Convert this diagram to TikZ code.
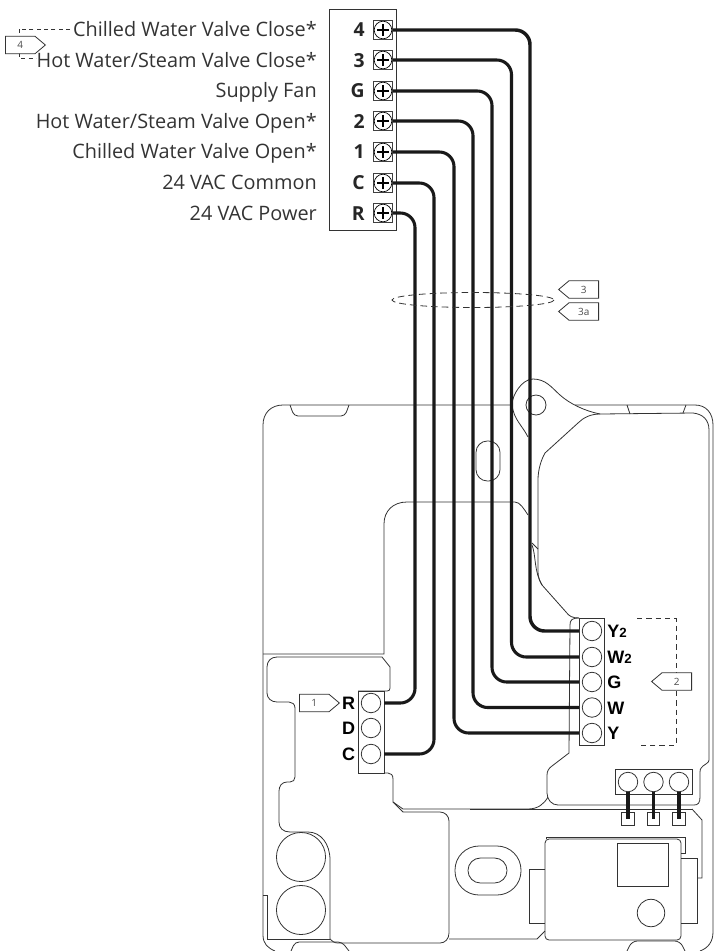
\documentclass[tikz,border=0pt]{standalone}
\usepackage{fontspec}
\setmainfont{Open Sans}
\newfontfamily\termfont{Liberation Sans}[BoldFont={Liberation Sans Bold}]
\usetikzlibrary{shapes.symbols}
\tikzset{
  thinline/.style={draw=black!80,line width=0.6pt},
  wire/.style={draw=black!90,line width=2.3pt,rounded corners=11pt},
  stub/.style={draw=black!90,line width=2.3pt},
  termhole/.style={circle,draw=black!80,line width=0.6pt,fill=white,minimum size=14.6pt,inner sep=0pt},
  screw/.style={rectangle,draw=black!75,line width=0.6pt,fill=white,minimum size=14.3pt,inner sep=0pt,
    path picture={
      \draw[black,line width=0.5pt] (path picture bounding box.center) circle (6.6pt);
      \draw[black,line width=1.4pt] ([xshift=-4.4pt]path picture bounding box.center) -- ([xshift=4.4pt]path picture bounding box.center);
      \draw[black,line width=1.4pt] ([yshift=-4.4pt]path picture bounding box.center) -- ([yshift=4.4pt]path picture bounding box.center);
    }},
  lab/.style={anchor=base east,inner sep=0pt,text=black!80,font=\fontsize{14.9pt}{16pt}\selectfont},
  scrlab/.style={anchor=base east,inner sep=0pt,text=black!85,font=\fontsize{14.5pt}{16pt}\selectfont\bfseries},
  termlab/.style={inner sep=0pt,font=\termfont\fontsize{13.5pt}{14pt}\selectfont\bfseries},
  tagr/.style={signal,signal to=east,signal pointer angle=80,draw=black!80,line width=0.6pt,fill=white,inner sep=0pt,
    minimum width=30pt,minimum height=13pt,anchor=west,font=\fontsize{7.5pt}{8pt}\selectfont,text=black!70},
  tagl/.style={signal,signal to=west,signal pointer angle=80,draw=black!80,line width=0.6pt,fill=white,inner sep=0pt,
    minimum width=30pt,minimum height=13pt,anchor=east,font=\fontsize{7.5pt}{8pt}\selectfont,text=black!70}
}
\begin{document}
\begin{tikzpicture}[x=0.75pt,y=-0.75pt]
\useasboundingbox (0,0) rectangle (714,951);
% ---- housing ----
\begin{scope}[thinline]
  % outer shell
  \draw (512,405) -- (283,405) .. controls (271,405) and (263,413) .. (263,425) -- (263,935)
        .. controls (263,944) and (268,948) .. (275,951);
  \draw (575,405) -- (695,405) .. controls (706,405) and (713,413) .. (713,425) -- (713,932)
        .. controls (713,942) and (708,948) .. (700,951);
  % top clips
  \draw[rounded corners=3pt] (290,405) -- (294,416) -- (345,416) -- (349,405);
  \draw (627,405) -- (630,414);
  \draw (686,405) -- (683,413);
  % ear
  \draw (512,405) .. controls (512,395) and (522,379) .. (533,379)
        .. controls (546,379) and (552,388) .. (560,395)
        .. controls (570,404) and (585,411) .. (600,414);
  \draw (512,405) .. controls (514,420) and (522,425) .. (528,437);
  \draw (536,405) circle (10);
  % inner right contour
  \draw (600,414) .. controls (590,414) and (583,418) .. (578,423) -- (545,453)
        .. controls (541,460) and (538,470) .. (538,480) -- (538,572);
  \draw (532,543) -- (538,549);
  \draw (532,545) .. controls (536,555) and (534,572) .. (542,585);
  \draw (538,572) .. controls (538,577) and (540,582) .. (542,585) -- (566,612)
        .. controls (569,616) and (572,618) .. (579,618);
  \draw (600,414) -- (693,413) .. controls (703,414) and (709,420) .. (709,430)
        -- (709,760) .. controls (709,763) and (705,764) .. (703,766) .. controls (700,769) and (700,770) .. (700,772)
        -- (700,797) .. controls (700,803) and (698,805) .. (694,805)
        -- (558,805) .. controls (552,805) and (547,800) .. (547,793)
        -- (547,775) .. controls (547,771) and (549,768) .. (552,766) -- (569,753)
        -- (570,625) .. controls (570,620) and (572,618) .. (579,618);
  % lower contour
  \draw (548,797) .. controls (544,804) and (538,809) .. (528,809) -- (403,809) -- (393,802)
        -- (393,779) .. controls (393,775) and (391,773) .. (388,773) -- (358,773);
  \draw (692,809) -- (702,820) -- (702,878) -- (697,878);
  \draw (470,809) -- (692,809);
  % inner left panel
  \draw (263,654) -- (384,654) -- (384,524) .. controls (384,511) and (393,502) .. (407,502)
        -- (515,502) .. controls (520,502) and (524,509) .. (528,515);
  % pocket
  \draw (358,691) -- (387,691) .. controls (389,691) and (390,690) .. (390,688) -- (390,667) -- (382,657) -- (277,657)
        .. controls (271,657) and (267,661) .. (267,667) -- (267,693) .. controls (267,698) and (271,702) .. (277,702)
        -- (289,702) .. controls (292,702) and (295,704) .. (295,708) -- (295,777)
        .. controls (295,780) and (293,782) .. (290,782) -- (287,782) .. controls (282,782) and (279,786) .. (279,791)
        -- (279,822) .. controls (279,828) and (283,832) .. (290,832) -- (308,832)
        .. controls (321,832) and (330,844) .. (330,860) -- (330,939);
  \draw (263,895) -- (267,895) -- (267,939) -- (330,939);
  % big panel
  \draw (403,812) -- (440,812) .. controls (445,812) and (449,816) .. (449,821) -- (449,933)
        .. controls (449,939) and (445,943) .. (440,943) -- (338,943) .. controls (334,943) and (332,941) .. (330,939);
  \draw (393,802) -- (403,812);
  \draw (449,939) -- (537,939) -- (545,931);
  % bottom clips
  \draw[rounded corners=3pt] (291,951) -- (295,942) -- (342,942) -- (349,951);
  \draw[rounded corners=4pt] (627,951) -- (632,941) -- (680,941) -- (685,951);
  % slot and ovals
  \draw[rounded corners=8.5pt] (476,441) rectangle (500,481);
  \draw[rounded corners=18pt] (455,846) rectangle (521,895);
  \draw[rounded corners=9.3pt] (468,858) rectangle (507,883);
  \node[circle,draw,inner sep=0pt,minimum size=36.8pt] (cap1) at (301,857) {};
  \node[circle,draw,inner sep=0pt,minimum size=36.8pt] (cap2) at (301,910) {};
  % relay
  \draw (546,839) -- (546,837) -- (685,837) -- (685,853) -- (681,853);
  \draw (545,869) -- (529,869) -- (529,923) -- (545,923);
  \draw (681,858) -- (697,858) -- (697,923) -- (681,923);
  \draw[rounded corners=3pt] (545,839) rectangle (681,940);
  \draw (617,843) rectangle (668,886);
  \node[circle,draw,inner sep=0pt,minimum size=20.6pt] (relaycap) at (651,913) {};
\end{scope}
% ---- left terminal block ----
\draw[thinline,fill=white] (358,691) rectangle (384,773);
\node[termhole] (tR) at (371,703) {};
\node[termhole] (tD) at (371,728) {};
\node[termhole] (tC) at (371,754) {};
\node[termlab,anchor=base east] (lR) at (355.5,709.5) {R};
\node[termlab,anchor=base east] (lD) at (355.5,734.5) {D};
\node[termlab,anchor=base east] (lC) at (355.5,760.5) {C};
% ---- right terminal block ----
\draw[thinline,fill=white] (579,618) rectangle (604,745);
\node[termhole] (tY2) at (592,631) {};
\node[termhole] (tW2) at (592,657) {};
\node[termhole] (tG) at (592,682) {};
\node[termhole] (tW) at (592,707.5) {};
\node[termhole] (tY) at (592,733) {};
\node[termlab,anchor=base west] (lY2) at (607,637.5) {Y{\fontsize{10pt}{10pt}\selectfont 2}};
\node[termlab,anchor=base west] (lW2) at (607,663.5) {W{\fontsize{10pt}{10pt}\selectfont 2}};
\node[termlab,anchor=base west] (lG) at (607,688.5) {G};
\node[termlab,anchor=base west] (lW) at (607,714) {W};
\node[termlab,anchor=base west] (lY) at (607,739.5) {Y};
% ---- bottom terminal block ----
\draw[thinline,fill=white] (615,769) rectangle (692,794);
\node[termhole] (b1) at (628,782) {};
\node[termhole] (b2) at (653.5,782) {};
\node[termhole] (b3) at (679,782) {};
\node[rectangle,thinline,minimum size=9.4pt,inner sep=0pt] (p1) at (628,819) {};
\node[rectangle,thinline,minimum size=9.4pt,inner sep=0pt] (p2) at (653.5,819) {};
\node[rectangle,thinline,minimum size=9.4pt,inner sep=0pt] (p3) at (679,819) {};
\draw[stub] (b1.south) -- (p1.center);
\draw[stub] (b2.south) -- (p2.center);
\draw[stub] (b3.south) -- (p3.center);
% ---- top terminal strip ----
\draw[thinline,fill=white] (329.5,9) rectangle (396,230);
\node[screw] (s4) at (383,30) {};
\node[screw] (s3) at (383,60) {};
\node[screw] (sG) at (383,91) {};
\node[screw] (s2) at (383,121) {};
\node[screw] (s1) at (383,152) {};
\node[screw] (sC) at (383,183) {};
\node[screw] (sR) at (383,213) {};
\node[scrlab] (n4) at (365,36.7) {4};
\node[scrlab] (n3) at (365,67) {3};
\node[scrlab] (nG) at (365,97.7) {G};
\node[scrlab] (n2) at (365,128.5) {2};
\node[scrlab] (n1) at (365,158.7) {1};
\node[scrlab] (nC) at (365,189.7) {C};
\node[scrlab] (nR) at (365,220.5) {R};
\node[lab] (d4) at (317,36.7) {Chilled Water Valve Close*};
\node[lab] (d3) at (317,67) {Hot Water/Steam Valve Close*};
\node[lab] (dG) at (317,97.7) {Supply Fan};
\node[lab] (d2) at (317,128.5) {Hot Water/Steam Valve Open*};
\node[lab] (d1) at (317,158.7) {Chilled Water Valve Open*};
\node[lab] (dC) at (317,189.7) {24 VAC Common};
\node[lab] (dR) at (317,220.5) {24 VAC Power};
% ---- wires ----
\coordinate (x4) at (530,0);
\coordinate (x3) at (511.5,0);
\coordinate (xG) at (492,0);
\coordinate (x2) at (473,0);
\coordinate (x1) at (454,0);
\coordinate (xC) at (434,0);
\coordinate (xR) at (415,0);
\draw[wire,line width=2.6pt,shorten >=2.2pt] (s4.east) -- (s4.east -| x4) -- (tY2.west -| x4) -- (tY2.west);
\draw[wire,shorten >=2.2pt] (s3.east) -- (s3.east -| x3) -- (tW2.west -| x3) -- (tW2.west);
\draw[wire,shorten >=2.2pt] (sG.east) -- (sG.east -| xG) -- (tG.west -| xG) -- (tG.west);
\draw[wire,shorten >=2.2pt] (s2.east) -- (s2.east -| x2) -- (tW.west -| x2) -- (tW.west);
\draw[wire,shorten >=2.2pt] (s1.east) -- (s1.east -| x1) -- (tY.west -| x1) -- (tY.west);
\draw[wire,shorten >=2.2pt] (sC.east) -- (sC.east -| xC) -- (tC.east -| xC) -- (tC.east);
\draw[wire,shorten >=2.2pt] (sR.east) -- (sR.east -| xR) -- (tR.east -| xR) -- (tR.east);
% ---- bundle ring and tags ----
\coordinate (ringc) at (473,300);
\draw[thinline,dashed,dash pattern=on 5pt off 3pt] (ringc) ellipse (81 and 7.5);
\node[tagl] (t3) at (599,289.5) {3};
\node[tagl] (t3a) at (599,311.5) {3a};
\coordinate (b4a) at (70,29);
\coordinate (b4b) at (36,58);
\draw[thinline,dashed,dash pattern=on 3pt off 2.5pt] (b4a) -- (19,29) -- (19,37);
\draw[thinline,dashed,dash pattern=on 3pt off 2.5pt] (19,53) -- (19,58) -- (b4b);
\node[tagr] (t4) at (5,45) {4};
\draw[thinline,dashed,dash pattern=on 4pt off 3pt] (637,618) -- (676,618) -- (676,745) -- (637,745);
\node[tagl] (t2) at (692,681.5) {2};
\node[tagr] (t1) at (299,703) {1};
\end{tikzpicture}
\end{document}
